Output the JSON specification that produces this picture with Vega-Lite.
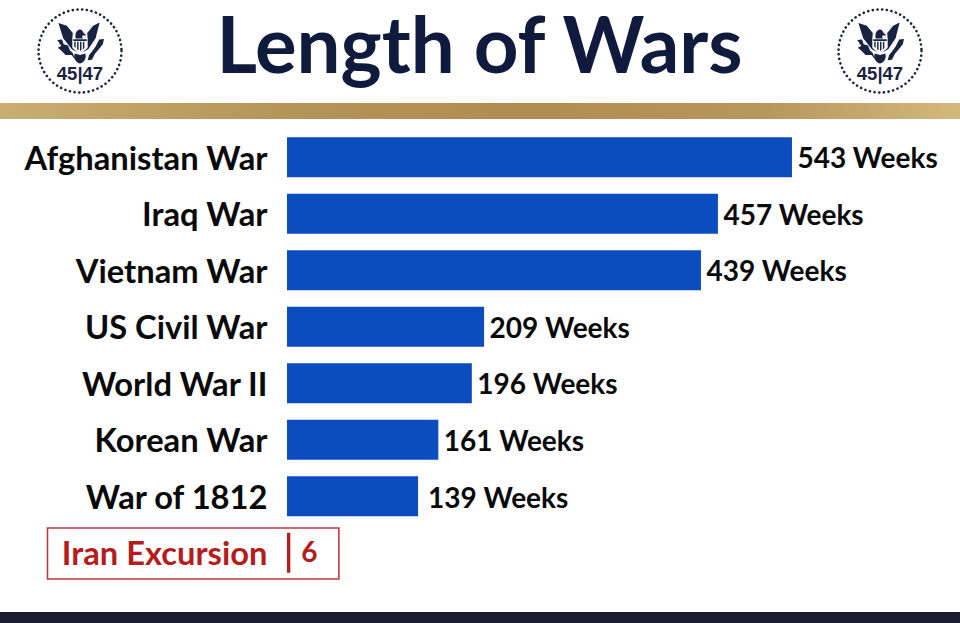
{"$schema":"https://vega.github.io/schema/vega-lite/v6.json","width":673,"height":452,"autosize":{"type":"none"},"padding":{"left":287,"top":129,"right":0,"bottom":42},"background":"#ffffff","title":{"text":"Length of Wars","font":"Lato","fontWeight":"bold","fontSize":78,"color":"#0f1a3c","anchor":"middle","frame":"group","dx":-144,"dy":85,"offset":-62,"baseline":"alphabetic"},"config":{"view":{"stroke":null}},"datasets":{"wars":[{"war":"Afghanistan War","bar":535.5,"label":"543 Weeks","kind":"war"},{"war":"Iraq War","bar":457,"label":"457 Weeks","kind":"war"},{"war":"Vietnam War","bar":439,"label":"439 Weeks","kind":"war"},{"war":"US Civil War","bar":209,"label":"209 Weeks","kind":"war"},{"war":"World War II","bar":196,"label":"196 Weeks","kind":"war"},{"war":"Korean War","bar":160.5,"label":"161 Weeks","kind":"war"},{"war":"War of 1812","bar":139,"label":"139 Weeks","kind":"war"},{"war":"Iran Excursion","bar":3.5,"label":"6","kind":"iran"}],"seals":[{"seal":"left"},{"seal":"right"}],"one":[{"item":"decoration"}]},"resolve":{"scale":{"x":"independent"}},"layer":[{"data":{"name":"one"},"layer":[{"mark":{"type":"rect","fill":{"gradient":"linear","x1":0,"x2":1,"y1":0,"y2":0,"stops":[{"offset":0,"color":"#c9ad72"},{"offset":0.3,"color":"#b59458"},{"offset":0.55,"color":"#b08c52"},{"offset":0.8,"color":"#b8975c"},{"offset":1,"color":"#d3b87e"}]}},"encoding":{"x":{"value":-287},"x2":{"value":673},"y":{"value":-26},"y2":{"value":-10}}},{"mark":{"type":"rect","fill":"#1c1c30"},"encoding":{"x":{"value":-287},"x2":{"value":673},"y":{"value":483},"y2":{"value":494}}}]},{"data":{"name":"seals"},"encoding":{"x":{"field":"seal","type":"nominal","axis":null,"scale":{"type":"point","padding":0,"domain":["left","right"],"range":[-207,593]}}},"layer":[{"mark":{"type":"point","filled":false,"shape":"circle","size":6889,"stroke":"#1a2242","strokeWidth":2.6,"strokeCap":"round","strokeDash":[0.1,4.6],"opacity":1},"encoding":{"y":{"value":-78}}},{"mark":{"type":"point","filled":true,"opacity":1,"size":2304,"fill":"#1a2242","shape":"M-.9-.83L-.55-.72L-.3-.42L-.32-.17L-.32.2L-.1.4L-.35.25L-.7-.2ZM.82-.85L.55-.72L.3-.42L.32-.17L.32.2L.1.4L.35.25L.65-.2ZM-.18-.19C-.25-.55.05-.7.15-.42L.27-.32L.08-.3L.12-.19ZM-.28-.16L.28-.16L.28-.08L-.28-.08ZM-.24-.05L-.18-.05L-.18.22L-.24.14ZM-.12-.05L-.06-.05L-.06.3L-.12.27ZM0-.05L.06-.05L.06.3L0 .32ZM.12-.05L.18-.05L.18.22L.12.27ZM-.22.44C-.3.7-.1.85 0 .85C.1.85.3.7.22.44L0 .5ZM-.95-.12L-.75-.15L-.68.05L-.5.1L-.42.3L-.3.42L-.2.7L-.35.5L-.6.5L-.8.3L-.92.2L-.78.12ZM.8-.15L1-.17L.95.05L.75.3L.62.45L.5.7L.32.72L.38.5L.5.35L.65.15Z"},"encoding":{"y":{"value":-86}}},{"mark":{"type":"text","text":"45|47","font":"Liberation Sans","fontWeight":"bold","fontSize":18.5,"fill":"#1a2242","align":"center","baseline":"middle"},"encoding":{"y":{"value":-55}}}]},{"data":{"name":"wars"},"encoding":{"y":{"field":"war","type":"nominal","sort":null,"scale":{"domain":["Afghanistan War","Iraq War","Vietnam War","US Civil War","World War II","Korean War","War of 1812","Iran Excursion"],"paddingInner":0.292,"paddingOuter":0.146},"axis":{"title":null,"domain":false,"ticks":false,"labelPadding":20,"labelOffset":2.5,"labelFont":"Lato","labelFontWeight":"bold","labelFontSize":32.7,"labelLimit":300,"labelColor":{"condition":{"test":"datum.value === 'Iran Excursion'","value":"#b71c1c"},"value":"#0a0a0a"}}}},"layer":[{"transform":[{"filter":"datum.kind === 'iran'"}],"mark":{"type":"rect","fill":"transparent","stroke":"#c0393b","strokeWidth":1.6},"encoding":{"x":{"datum":-254,"type":"quantitative","axis":null,"scale":{"domain":[0,713.7],"nice":false,"zero":false,"range":[0,673]}},"x2":{"datum":55},"y":{"value":399},"y2":{"value":450}}},{"mark":{"type":"bar"},"encoding":{"x":{"field":"bar","type":"quantitative","axis":null,"scale":{"domain":[0,713.7],"nice":false,"zero":false,"range":[0,673]}},"color":{"field":"kind","type":"nominal","legend":null,"scale":{"domain":["war","iran"],"range":["#0b4dbf","#b71c1c"]}}}},{"transform":[{"filter":"datum.kind === 'war' && datum.war !== 'War of 1812'"}],"mark":{"type":"text","align":"left","baseline":"middle","dx":5.5,"dy":3,"font":"Lato","fontWeight":"bold","fontSize":28,"fill":"#0a0a0a"},"encoding":{"x":{"field":"bar","type":"quantitative"},"text":{"field":"label"}}},{"transform":[{"filter":"datum.war === 'War of 1812'"}],"mark":{"type":"text","align":"left","baseline":"middle","dx":10,"dy":4,"font":"Lato","fontWeight":"bold","fontSize":28,"fill":"#0a0a0a"},"encoding":{"x":{"field":"bar","type":"quantitative"},"text":{"field":"label"}}},{"transform":[{"filter":"datum.kind === 'iran'"}],"mark":{"type":"text","align":"left","baseline":"middle","dx":11,"dy":1,"font":"Lato","fontWeight":"bold","fontSize":28,"fill":"#b71c1c"},"encoding":{"x":{"field":"bar","type":"quantitative"},"text":{"field":"label"}}}]}]}
